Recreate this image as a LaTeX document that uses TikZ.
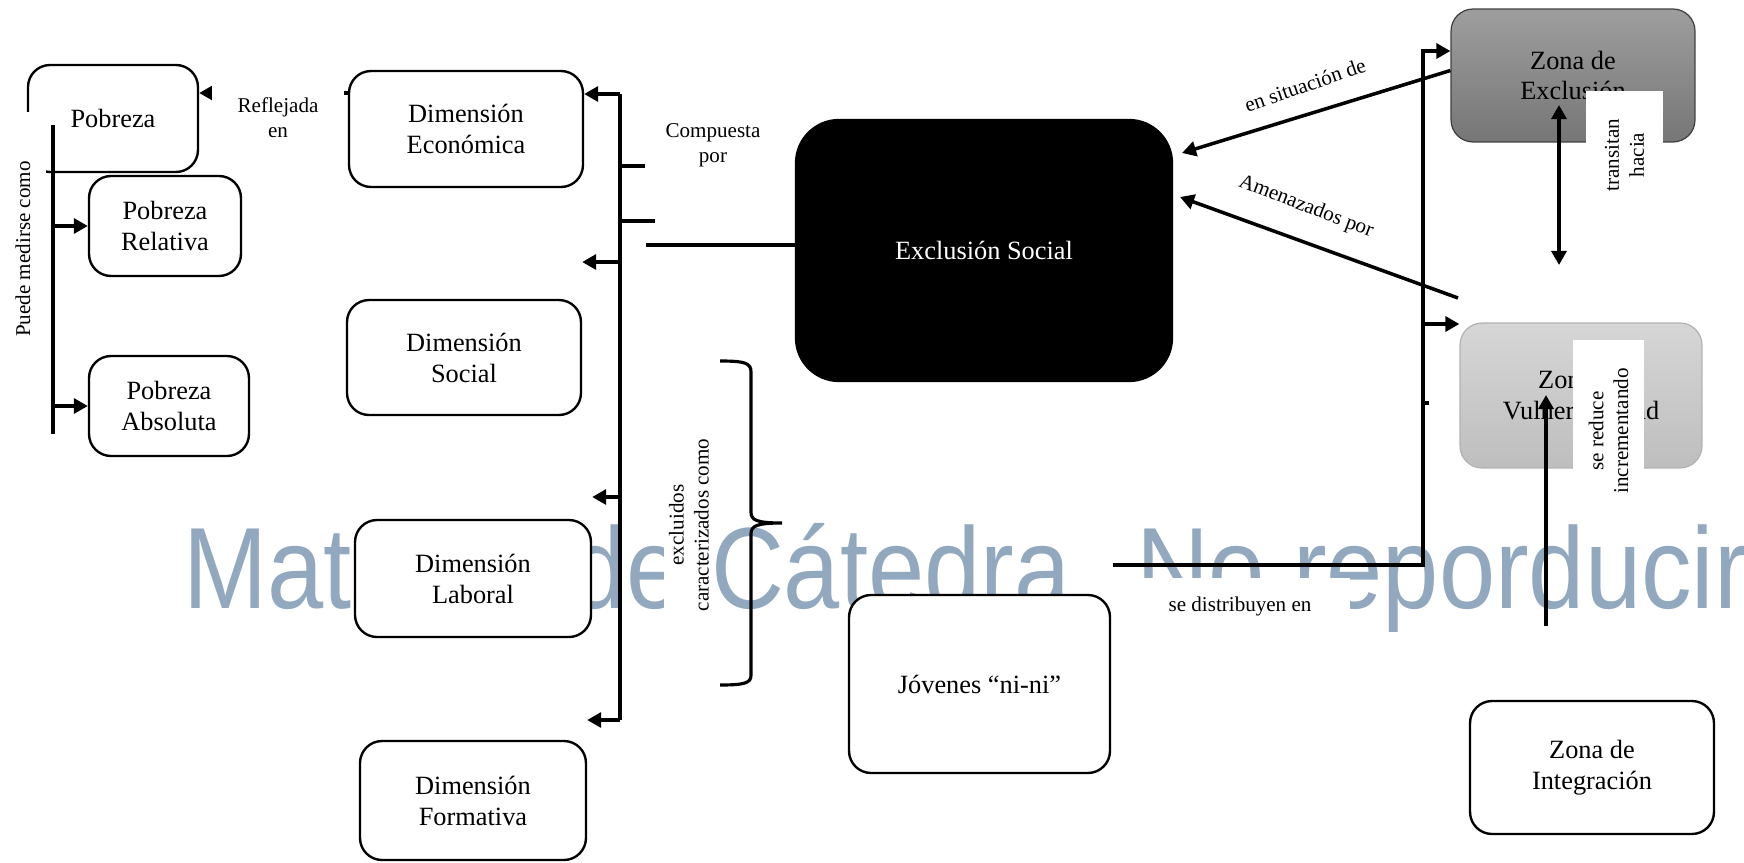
\documentclass[tikz,border=0pt]{standalone}
\usepackage{fontspec}
\setmainfont{Liberation Serif}
\newfontfamily\wmfont{Liberation Sans}
\usetikzlibrary{arrows.meta,calc}
\definecolor{wm}{RGB}{145,168,191}
\definecolor{zexA}{RGB}{158,158,158}
\definecolor{zexB}{RGB}{118,118,118}
\definecolor{zvuA}{RGB}{214,214,214}
\definecolor{zvuB}{RGB}{190,190,190}
\begin{document}
\begin{tikzpicture}[x=0.02cm,y=-0.02cm,
  box/.style={draw, line width=1.35pt, rounded corners=0.44cm, fill=white, align=center, inner sep=0pt, font=\fontsize{15}{17.6}\selectfont},
  lbl/.style={align=center, inner sep=0pt, font=\fontsize{12}{14.2}\selectfont},
  conn/.style={line width=2pt},
  arr/.style={conn, -{Triangle[length=8pt,width=8.5pt]}},
  dbl/.style={conn, {Triangle[length=8pt,width=8.5pt]}-{Triangle[length=8pt,width=8.5pt]}},
]
\useasboundingbox (0,0) rectangle (1744,862);

% watermark
\node[anchor=base west, inner sep=0pt, text=wm, xscale=0.874, font=\wmfont\fontsize{65.8}{70}\selectfont] (wmk) at (183,608) {Material de Cátedra. No reporducir};

% boxes
\node[box, minimum width=3.4cm, minimum height=2.14cm] (pob) at (113,118.5) {Pobreza};
\node[box, minimum width=3.04cm, minimum height=2cm] (rel) at (165,226) {Pobreza\\Relativa};
\node[box, minimum width=3.2cm, minimum height=2cm] (abs) at (169,406) {Pobreza\\Absoluta};
\node[box, minimum width=4.68cm, minimum height=2.32cm] (eco) at (466,129) {Dimensión\\Económica};
\node[box, minimum width=4.68cm, minimum height=2.3cm] (soc) at (464,357.5) {Dimensión\\Social};
\node[box, minimum width=4.72cm, minimum height=2.34cm] (lab) at (473,578.5) {Dimensión\\Laboral};
\node[box, minimum width=4.52cm, minimum height=2.38cm] (for) at (473,800.5) {Dimensión\\Formativa};
\node[box, fill=black, text=white, rounded corners=0.86cm, minimum width=7.52cm, minimum height=5.22cm] (exc) at (984,250.5) {Exclusión Social};
\node[box, minimum width=5.22cm, minimum height=3.56cm] (jov) at (979.5,684) {Jóvenes “ni-ni”};
\node[box, line width=0.7pt, draw=black!75, top color=zexA, bottom color=zexB, minimum width=4.88cm, minimum height=2.66cm] (zex) at (1573,75.5) {Zona de\\Exclusión};
\node[box, line width=0.7pt, draw=black!30, top color=zvuA, bottom color=zvuB, minimum width=4.84cm, minimum height=2.9cm] (zvu) at (1581,395.5) {Zona de\\Vulnerabilidad};
\node[box, minimum width=4.88cm, minimum height=2.66cm] (zin) at (1592,767.5) {Zona de\\Integración};

% Reflejada en
\coordinate (r1) at (0,93);
\draw[arr] (eco.west |- r1) -- (pob.east |- r1);
\node[lbl, fill=white, minimum width=2.64cm, minimum height=1.6cm] (refl) at (278,118) {Reflejada\\en};

% Puede medirse como
\node[lbl, rotate=90, fill=white, minimum width=5.48cm, minimum height=0.92cm] (pmc) at (23,249) {Puede medirse como};
\coordinate (pa) at (53,125);
\coordinate (pb) at (53,434);
\draw[conn] (pa) -- (pb);
\draw[arr] (pa |- rel.west) -- (rel.west);
\draw[arr] (pa |- abs.west) -- (abs.west);

% dimension spine
\coordinate (d1) at (620,94);
\coordinate (d2) at (620,262);
\coordinate (d3) at (620,497);
\coordinate (d4) at (620,720);
\draw[conn] (d1) -- (d4);
\draw[arr] (d1) -- (eco.east |- d1);
\draw[arr] (d2) -- (soc.east |- d2);
\draw[arr] (d3) -- (lab.east |- d3);
\draw[arr] (d4) -- (for.east |- d4);
\coordinate (k1) at (620,166); \coordinate (k1e) at (645,166);
\coordinate (k2) at (620,221); \coordinate (k2e) at (655,221);
\coordinate (k3) at (646,245);
\draw[conn] (k1) -- (k1e);
\draw[conn] (k2) -- (k2e);
\draw[conn] (k3) -- (exc.west |- k3);
\node[lbl] (comp) at (713,145) {Compuesta\\por};

% excluidos brace
\node[lbl, rotate=90, fill=white, minimum width=4cm, minimum height=1.0cm] (excl) at (689,525) {excluidos\\caracterizados como};
\coordinate (b1) at (720,361);
\coordinate (bm) at (782,523);
\coordinate (b2) at (720,685);
\draw[line width=1.8pt] (b1) .. controls (745,361) and (751,363) .. (751,372) -- (751,512) .. controls (751,520) and (756,523) .. (bm)
  (bm) .. controls (756,523) and (751,526) .. (751,534) -- (751,675) .. controls (751,683) and (745,685) .. (b2);

% right side arrows
\coordinate (s1) at (1182,153);
\draw[arr] ($(zex.west)+(0,-5)$) -- (s1);
\node[lbl, rotate=19] (sit) at (1305,85) {en situación de};
\coordinate (am0) at (1458,298);
\coordinate (am1) at (1180,197);
\draw[arr] (am0) -- (am1);
\node[lbl, rotate=-21] (ame) at (1306,207) {Amenazados por};

% se distribuyen en
\coordinate (j0) at (1113,565);
\coordinate (j1) at (1423,565);
\coordinate (j2) at (1423,51);
\coordinate (j3) at (1423,324);
\coordinate (j4) at (1423,403);
\coordinate (j5) at (1429,403);
\draw[arr] (j0) -- (j1) -- (j2) -- (zex.west |- j2);
\draw[arr] (j3) -- (zvu.west |- j3);
\draw[conn] (j4) -- (j5);
\node[lbl, fill=white, minimum width=4.4cm, minimum height=1.12cm] (dist) at (1240,606) {se distribuyen en};

% transitan hacia
\node[lbl, rotate=90, fill=white, minimum width=2.56cm, minimum height=1.54cm] (tra) at (1624.5,155) {transitan\\hacia};
\coordinate (v1) at (1559,105);
\coordinate (v2) at (1559,265);
\draw[dbl] (v1) -- (v2);

% se reduce incrementando
\node[lbl, rotate=90, fill=white, minimum width=3.64cm, minimum height=1.42cm] (red) at (1608.5,431) {se reduce\\incrementando};
\coordinate (u1) at (1546,626);
\coordinate (u2) at (1546,395);
\draw[arr] (u1) -- (u2);
\end{tikzpicture}
\end{document}
